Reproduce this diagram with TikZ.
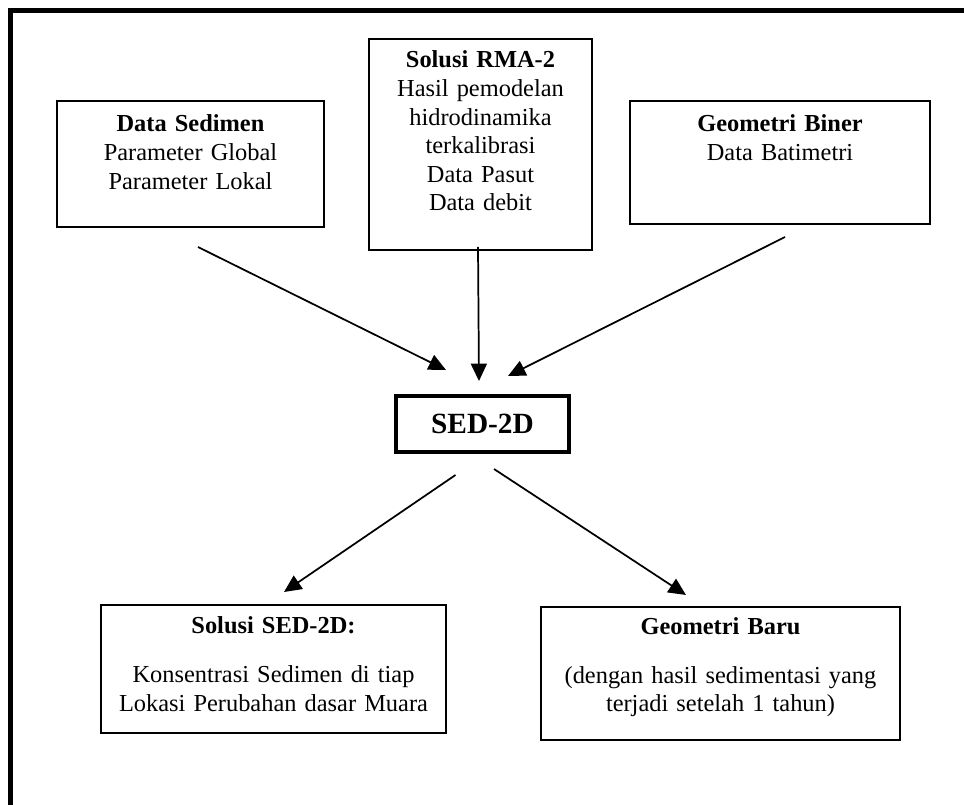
\documentclass[tikz,border=0pt]{standalone}
\usepackage{fontspec}
\setmainfont{Liberation Serif}
\newfontfamily\sedfont{Liberation Serif}
\usepackage{tikz}
\usetikzlibrary{arrows.meta,positioning}

\begin{document}
\begin{tikzpicture}[
    x=0.75pt, y=-0.75pt,
    box/.style={
        draw=black,
        line width=1.5pt,
        align=center,
        anchor=north,
        inner xsep=3pt,
        inner ysep=0pt,
        font=\fontsize{18.3}{21.4}\selectfont
    },
    core/.style={
        draw=black,
        line width=3.4pt,
        minimum width=130pt,
        minimum height=42pt,
        font=\sedfont\bfseries\fontsize{22}{26}\selectfont
    },
    arrow/.style={-{Triangle[length=13pt,width=12pt]}, line width=1.3pt, draw=black},
    frame/.style={line width=3.75pt}
]
\useasboundingbox (0,0) rectangle (964,805);
\draw[frame] (10.5,805) |- (964,10.5);

\node[box, text width=194.25pt, text height=23.25pt, text depth=71.25pt] (sedimen) at (190.5,100)
    {\textbf{Data Sedimen}\\Parameter Global\\Parameter Lokal};
\node[box, text width=161.25pt, text height=21.75pt, text depth=136.5pt] (rma) at (480.5,38)
    {\textbf{Solusi RMA-2}\\Hasil pemodelan\\hidrodinamika\\terkalibrasi\\Data Pasut\\Data debit};
\node[box, text width=219pt, text height=23.25pt, text depth=69pt] (biner) at (780,100)
    {\textbf{Geometri Biner}\\Data Batimetri};

\node[core] (sed) at (482.5,424) {SED-2D};

\node[box, text width=252.75pt, text height=21pt, text depth=75pt] (solusi) at (273.5,604)
    {\textbf{Solusi SED-2D:}\\[16pt]Konsentrasi Sedimen di tiap\\Lokasi Perubahan dasar Muara};
\node[box, text width=263.25pt, text height=20.25pt, text depth=79.5pt] (baru) at (720.5,606)
    {\textbf{Geometri Baru}\\[15.5pt](dengan hasil sedimentasi yang\\terjadi setelah 1 tahun)};

% free ends of the connectors
\coordinate (sedimen-out) at (198,247);
\coordinate (rma-out) at (478,247);
\coordinate (biner-out) at (785,237);
\coordinate (sed-in-l) at (446,370);
\coordinate (sed-in-m) at (479,381);
\coordinate (sed-in-r) at (508,376);
\coordinate (sed-out-l) at (455.5,475);
\coordinate (sed-out-r) at (494,469);
\coordinate (solusi-in) at (284,592);
\coordinate (baru-in) at (686,595);

\draw[arrow] (sedimen-out) -- (sed-in-l);
\draw[arrow] (rma-out) -- (sed-in-m);
\draw[arrow] (biner-out) -- (sed-in-r);
\draw[arrow] (sed-out-l) -- (solusi-in);
\draw[arrow] (sed-out-r) -- (baru-in);

\end{tikzpicture}
\end{document}
